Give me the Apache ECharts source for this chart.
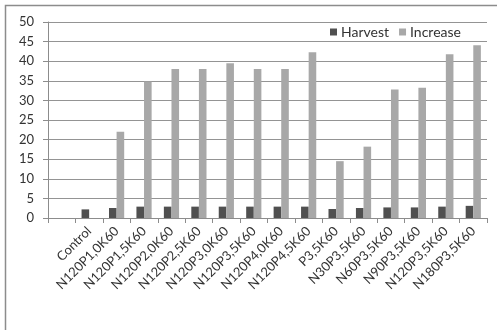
<!DOCTYPE html>
<html>
<head>
<meta charset="utf-8">
<script src="https://cdn.jsdelivr.net/npm/echarts@6/dist/echarts.min.js"></script>
<style>
  html, body { margin: 0; padding: 0; background: #ffffff; }
  #chart { width: 497px; height: 330px; }
</style>
</head>
<body>
<div id="chart"></div>
<script>
// Treatment names (the first slot is left empty on the axis)
const categories = ['', 'Control', 'N120P1,0K60', 'N120P1,5K60', 'N120P2,0K60', 'N120P2,5K60',
  'N120P3,0K60', 'N120P3,5K60', 'N120P4,0K60', 'N120P4,5K60', 'P3,5K60',
  'N30P3,5K60', 'N60P3,5K60', 'N90P3,5K60', 'N120P3,5K60', 'N180P3,5K60'];

const harvest = [null, 2.2, 2.55, 2.9, 2.9, 2.9, 2.9, 2.9, 2.9, 2.9, 2.3, 2.55, 2.7, 2.7, 2.9, 3.1];
const increase = [null, null, 22.0, 34.8, 38.0, 38.0, 39.5, 38.0, 38.0, 42.3, 14.5, 18.2, 32.8, 33.2, 41.8, 44.1];

const yTicks = { min: 0, max: 50, interval: 5 };

const font = 'Lato, "Open Sans", sans-serif';
const chart = echarts.init(document.getElementById('chart'), null, { renderer: 'canvas' });

chart.setOption({
  animation: false,
  backgroundColor: '#ffffff',
  textStyle: { fontFamily: font },
  graphic: [{
    type: 'rect',
    shape: { x: 5.5, y: 5.5, width: 600, height: 500 },
    style: { fill: 'none', stroke: '#8c8c8c', lineWidth: 1.5 },
    silent: true
  }],
  grid: { left: 48, right: 10, top: 22, bottom: 112 },
  legend: {
    left: 325, top: 22, padding: [3, 5],
    itemWidth: 7, itemHeight: 7, itemGap: 10,
    icon: 'rect',
    textStyle: { fontFamily: font, fontSize: 14, color: '#333', padding: [0, 0, 0, -1] },
    data: ['Harvest', 'Increase']
  },
  xAxis: {
    type: 'category',
    data: categories,
    axisLine: { lineStyle: { color: '#8c8c8c', width: 1 } },
    axisTick: { show: true, length: 5, lineStyle: { color: '#8c8c8c' } },
    axisLabel: { interval: 0, rotate: 45, margin: 11, fontFamily: font, fontSize: 13, color: '#333' }
  },
  yAxis: {
    type: 'value',
    min: yTicks.min, max: yTicks.max, interval: yTicks.interval,
    axisLine: { show: true, lineStyle: { color: '#8c8c8c', width: 1 } },
    axisTick: { show: true, length: 5, lineStyle: { color: '#8c8c8c' } },
    splitLine: { lineStyle: { color: '#949494', width: 1 } },
    axisLabel: { margin: 14, fontFamily: font, fontSize: 13, color: '#333' }
  },
  series: [
    {
      name: 'Harvest', type: 'bar', data: harvest,
      barWidth: 7.6, barGap: '0%',
      itemStyle: { color: '#505050' }
    },
    {
      name: 'Increase', type: 'bar', data: increase,
      barWidth: 7.6,
      itemStyle: { color: '#a8a8a8' }
    }
  ]
});
</script>
</body>
</html>
